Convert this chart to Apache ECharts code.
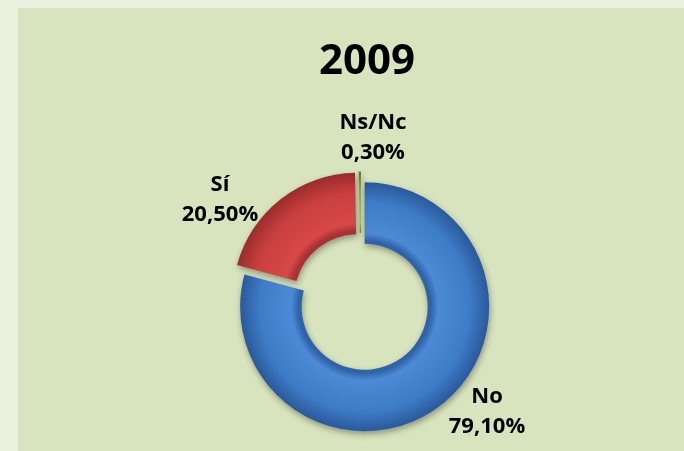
<!DOCTYPE html>
<html>
<head>
<meta charset="utf-8">
<script src="https://cdn.jsdelivr.net/npm/echarts@6/dist/echarts.min.js"></script>
<style>
  html, body { margin: 0; padding: 0; background: #ebf0df; }
  #chart { width: 684px; height: 451px; }
</style>
</head>
<body>
<div id="chart"></div>
<script>
const title = '2009';
const categories = ['No', 'Sí', 'Ns/Nc'];
const values = [79.1, 20.5, 0.3];
const baseColors = [
  ['#2f63a8', '#4d8ad6', '#3f7cc8', '#2a5a9c'],
  ['#a83232', '#d84848', '#c93f3f', '#9c2c2c'],
  ['#6f8a35', '#9bbb59', '#8aa84a', '#5f7a2c']
];

const CX = 361, CY = 302, R0 = 63, R1 = 124.5;
// label anchor positions (layout only)
const labelPos = { 0: [487, 412], 1: [220, 200], 2: [373, 138] };

function bevel(c) {
  const f = R0 / R1;
  return {
    type: 'radial', x: CX, y: CY, r: R1 + 6, global: true,
    colorStops: [
      { offset: 0, color: c[0] },
      { offset: f, color: c[0] },
      { offset: f + 0.06, color: c[1] },
      { offset: 0.8, color: c[2] },
      { offset: 0.95, color: c[3] },
      { offset: 1, color: c[3] }
    ]
  };
}

const fmt = p => p.name + '\n' + p.value.toFixed(2).replace('.', ',') + '%';

const chart = echarts.init(document.getElementById('chart'), null, { renderer: 'canvas' });
chart.setOption({
  animation: false,
  backgroundColor: '#ebf0df',
  graphic: [{
    type: 'rect', z: -10, silent: true,
    shape: { x: 18, y: 8, width: 700, height: 460 },
    style: { fill: '#d8e4bd' }
  }],
  title: {
    text: title,
    left: 362, top: 36,
    textAlign: 'center',
    textStyle: { fontFamily: 'Open Sans', fontWeight: 'bold', fontSize: 42, color: '#000' }
  },
  series: [{
    type: 'pie',
    center: [CX, CY],
    radius: [R0, R1],
    startAngle: 90,
    clockwise: true,
    selectedMode: 'multiple',
    selectedOffset: 6,
    itemStyle: {
      shadowBlur: 6,
      shadowColor: 'rgba(0,0,0,0.35)',
      shadowOffsetX: 1,
      shadowOffsetY: 3
    },
    label: { show: false },
    labelLine: { show: false },
    emphasis: { disabled: true },
    data: categories.map((c, i) => ({
      name: c,
      value: values[i],
      selected: true,
      itemStyle: { color: bevel(baseColors[i]) }
    }))
  }, {
    type: 'pie',
    center: [CX, CY],
    radius: [R0, R1],
    startAngle: 90,
    clockwise: true,
    silent: true,
    itemStyle: { color: 'rgba(0,0,0,0)' },
    label: {
      show: true,
      position: 'inside',
      fontFamily: 'Open Sans',
      fontWeight: 'bold',
      fontSize: 22,
      lineHeight: 30,
      color: '#000',
      align: 'center',
      verticalAlign: 'middle',
      formatter: fmt
    },
    labelLine: { show: false },
    labelLayout: p => {
      const pos = labelPos[p.dataIndex];
      return { x: pos[0], y: pos[1], align: 'center', verticalAlign: 'middle' };
    },
    emphasis: { disabled: true },
    data: categories.map((c, i) => ({ name: c, value: values[i] }))
  }]
});
</script>
</body>
</html>
